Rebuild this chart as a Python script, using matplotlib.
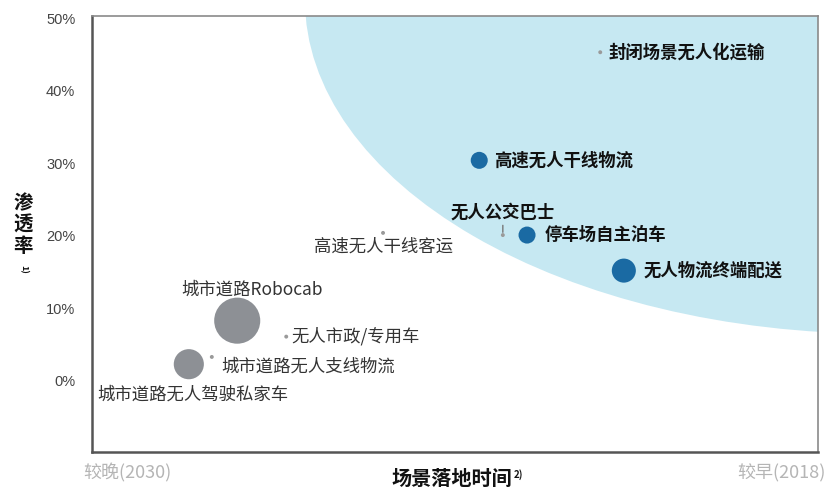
import matplotlib
matplotlib.use("Agg")
import matplotlib.pyplot as plt
from matplotlib.patches import Ellipse
from matplotlib.ticker import FuncFormatter

plt.rcParams['font.family'] = ['Noto Sans CJK SC', 'DejaVu Sans']

# 场景数据: 落地年份 (越靠右越早), 渗透率 %, 气泡大小
scenes = ['封闭场景无人化运输', '高速无人干线物流', '无人公交巴士', '停车场自主泊车',
          '无人物流终端配送', '高速无人干线客运', '城市道路Robocab', '无人市政/专用车',
          '城市道路无人支线物流', '城市道路无人驾驶私家车']
years = [2021.60, 2023.60, 2023.21, 2022.81, 2021.21, 2025.19, 2027.60, 2026.79, 2028.02, 2028.40]
rates = [45.3, 30.4, 20.1, 20.1, 15.2, 20.4, 8.3, 6.1, 3.3, 2.3]
sizes = [8, 150, 8, 150, 300, 8, 1100, 8, 8, 470]
groups = ['dot', 'blue', 'dot', 'blue', 'blue', 'dot', 'gray', 'dot', 'dot', 'gray']

y_ticks = [0, 10, 20, 30, 40, 50]

colors = {'blue': '#1a6aa3', 'gray': '#8d9095', 'dot': '#9a9a9a'}

# 标签偏移 (points) 和对齐方式
label_pos = {
    '封闭场景无人化运输': (6, 0, 'left', 'center'),
    '高速无人干线物流': (11, 0, 'left', 'center'),
    '无人公交巴士': (0, 16, 'center', 'center'),
    '停车场自主泊车': (13, 0, 'left', 'center'),
    '无人物流终端配送': (14, 0, 'left', 'center'),
    '高速无人干线客运': (0, -10, 'center', 'center'),
    '城市道路Robocab': (11, 22, 'center', 'center'),
    '无人市政/专用车': (4, 0, 'left', 'center'),
    '城市道路无人支线物流': (7, -7, 'left', 'center'),
    '城市道路无人驾驶私家车': (-66, -22, 'left', 'center'),
}

fig = plt.figure(figsize=(8.38, 4.9), dpi=100)
ax = fig.add_axes([0.1098, 0.0776, 0.8664, 0.8898])

ax.set_xlim(2030, 2018)
ax.set_ylim(-9.8, 50.3)

# 浅蓝色区域
region = Ellipse((2016.98, 52.5), 19.0, 92.0, facecolor='#c6e8f2', edgecolor='none', zorder=0)
ax.add_patch(region)
region.set_clip_path(ax.patch)

for name, x, y, s, g in zip(scenes, years, rates, sizes, groups):
    ax.scatter(x, y, s=s, color=colors[g], edgecolors='none', zorder=3)
    dx, dy, ha, va = label_pos[name]
    bold = g == 'blue' or name in ('封闭场景无人化运输', '无人公交巴士')
    ax.annotate(name, (x, y), xytext=(dx, dy), textcoords='offset points',
                ha=ha, va=va, fontsize=12.5,
                fontweight='bold' if bold else 'normal',
                color='#111111' if bold else '#333333', zorder=4)

# 无人公交巴士 引线
i = scenes.index('无人公交巴士')
ax.annotate('', (years[i], rates[i]), xytext=(0, 9), textcoords='offset points',
            arrowprops=dict(arrowstyle='-', color='#777777', lw=1))

ax.set_xticks([])
ax.set_yticks(y_ticks)
ax.yaxis.set_major_formatter(FuncFormatter(lambda v, p: f'{int(v)}%'))
ax.tick_params(axis='y', length=0, pad=12, labelsize=10.5, labelcolor='#444444')
for lab in ax.get_yticklabels():
    lab.set_family(['Liberation Sans', 'DejaVu Sans'])

for side in ['left', 'bottom']:
    ax.spines[side].set_color('#555555')
    ax.spines[side].set_linewidth(1.8)
for side in ['top', 'right']:
    ax.spines[side].set_color('#8a8a8a')
    ax.spines[side].set_linewidth(1.2)

# 纵轴标题 (竖排)
fig.text(0.028, 0.54, '渗\n透\n率', ha='center', va='center', fontsize=14,
         fontweight='bold', linespacing=1.15, color='#111111')
fig.text(0.028, 0.45, '1)', ha='center', va='center', fontsize=6.5,
         fontweight='bold', rotation=-90, color='#111111')

# 横轴标题
fig.text(0.611, 0.024, '场景落地时间', ha='right', va='center', fontsize=14.5,
         fontweight='bold', color='#111111')
fig.text(0.613, 0.032, '2)', ha='left', va='center', fontsize=7,
         fontweight='bold', color='#111111')

fig.text(0.099, 0.035, '较晚(2030)', ha='left', va='center', fontsize=13,
         style='italic', color='#b5b5b5')
fig.text(0.985, 0.035, '较早(2018)', ha='right', va='center', fontsize=13,
         style='italic', color='#b5b5b5')

fig.savefig('out.png', dpi=100)
